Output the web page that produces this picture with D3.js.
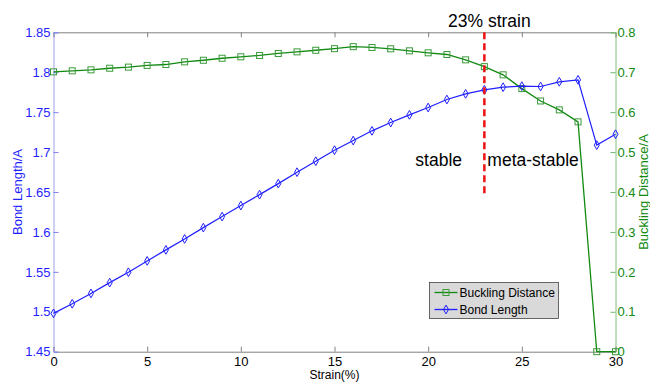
<!DOCTYPE html>
<html><head><meta charset="utf-8">
<script src="https://cdn.jsdelivr.net/npm/d3@7"></script>
<style>body{margin:0;background:#fff}svg{display:block;font-family:Arial,"Liberation Sans",sans-serif}</style>
</head><body><div id="chart"></div>
<script>
const strain = d3.range(0, 31);
const bondLength = [1.498,1.510,1.523,1.5365,1.5495,1.5637,1.5775,1.5912,1.6054,1.6192,1.633,1.6467,1.6605,1.6748,1.6886,1.7024,1.7144,1.7266,1.737,1.7466,1.7558,1.7658,1.7729,1.778,1.7813,1.7826,1.7821,1.788,1.7905,1.7087,1.7224];
const bucklingDistance = [0.701,0.7035,0.706,0.710,0.7128,0.717,0.7193,0.726,0.730,0.735,0.7386,0.742,0.747,0.751,0.755,0.759,0.764,0.762,0.7587,0.7536,0.7486,0.7444,0.731,0.714,0.6935,0.659,0.628,0.6057,0.5757,0,0];
const xTicks = [0,5,10,15,20,25,30];
const leftTicks = [1.45,1.5,1.55,1.6,1.65,1.7,1.75,1.8,1.85];
const rightTicks = [0,0.1,0.2,0.3,0.4,0.5,0.6,0.7,0.8];
const markerStrain = 23;
const markerBottom = 1.645;

const W = 650, H = 382;
const m = {l:53.5, r:34.5, t:32.3, b:30.3};
const svg = d3.select("#chart").append("svg").attr("width", W).attr("height", H);
const x = d3.scaleLinear().domain([0,30]).range([m.l, W - m.r]);
const yL = d3.scaleLinear().domain([1.45,1.85]).range([H - m.b, m.t]);
const yR = d3.scaleLinear().domain([0,0.8]).range([H - m.b, m.t]);

const blue = "#1f1fff", green = "#118a11";
const fmtL = d => d === 1.5 ? "1.5" : d === 1.8 ? "1.8" : d3.format(".2f")(d).replace(/0$/,"");
const fmtR = d => d === 0 ? "0" : d3.format(".1f")(d);

// bottom axis
const gB = svg.append("g").attr("transform", `translate(0,${H - m.b})`)
  .call(d3.axisBottom(x).tickValues(xTicks).tickSize(-5).tickPadding(5).tickFormat(d3.format("d")));
gB.select(".domain").attr("stroke", "#808080");
gB.selectAll(".tick line").attr("stroke", "#808080");
gB.selectAll("text").attr("font-size", 13).attr("fill", "#000");
// top axis
const gT = svg.append("g").attr("transform", `translate(0,${m.t})`)
  .call(d3.axisTop(x).tickValues(xTicks).tickSize(-5).tickFormat(""));
gT.select(".domain").attr("stroke", "#808080");
gT.selectAll(".tick line").attr("stroke", "#808080");

// left axis
const gL = svg.append("g").attr("transform", `translate(${m.l},0)`)
  .call(d3.axisLeft(yL).tickValues(leftTicks).tickSize(-5).tickPadding(3).tickFormat(fmtL));
gL.select(".domain").attr("stroke", "#a0a0f0");
gL.selectAll(".tick line").attr("stroke", "#8080f0");
gL.selectAll("text").attr("font-size", 13).attr("fill", blue);
// right axis
const gR = svg.append("g").attr("transform", `translate(${W - m.r},0)`)
  .call(d3.axisRight(yR).tickValues(rightTicks).tickSize(-5).tickPadding(2).tickFormat(fmtR));
gR.select(".domain").attr("stroke", "#80c080");
gR.selectAll(".tick line").attr("stroke", "#70b870");
gR.selectAll("text").attr("font-size", 13).attr("fill", green);

// axis titles
svg.append("text").attr("transform", `translate(22,${(m.t + H - m.b)/2}) rotate(-90)`)
  .attr("text-anchor","middle").attr("font-size",13).attr("fill",blue).text("Bond Length/A");
svg.append("text").attr("transform", `translate(648,${(m.t + H - m.b)/2}) rotate(-90)`)
  .attr("text-anchor","middle").attr("font-size",13).attr("fill",green).text("Buckling Distance/A");
svg.append("text").attr("x", x(15)).attr("y", 379).attr("text-anchor","middle")
  .attr("font-size",12).attr("fill","#000").text("Strain(%)");

// series
const lineB = d3.line().x((d,i) => x(strain[i])).y(d => yL(d));
const lineG = d3.line().x((d,i) => x(strain[i])).y(d => yR(d));
svg.append("path").datum(bucklingDistance).attr("d", lineG).attr("fill","none").attr("stroke",green).attr("stroke-width",1.3);
svg.append("g").selectAll("rect").data(bucklingDistance).join("rect")
  .attr("x",(d,i)=>x(strain[i])-3).attr("y",d=>yR(d)-3).attr("width",6).attr("height",6)
  .attr("fill","none").attr("stroke","#3a9a3a").attr("stroke-width",1);
svg.append("path").datum(bondLength).attr("d", lineB).attr("fill","none").attr("stroke",blue).attr("stroke-width",1.2);
const diamond = d3.symbol().type(d3.symbolDiamond).size(22);
svg.append("g").selectAll("path").data(bondLength).join("path")
  .attr("transform",(d,i)=>`translate(${x(strain[i])},${yL(d)})`).attr("d",diamond)
  .attr("fill","none").attr("stroke",blue).attr("stroke-width",1);

// marker line
svg.append("line").attr("x1",x(markerStrain)).attr("x2",x(markerStrain))
  .attr("y1",yL(1.85)).attr("y2",yL(markerBottom))
  .attr("stroke","#ee1111").attr("stroke-width",2.5).attr("stroke-dasharray","7,4");
svg.append("text").attr("x",x(markerStrain)+5).attr("y",26.5).attr("text-anchor","middle")
  .attr("font-size",17.5).attr("fill","#000").text("23% strain");
svg.append("text").attr("x",x(markerStrain)-69).attr("y",166)
  .attr("font-size",17.5).attr("fill","#000").text("stable");
svg.append("text").attr("x",x(markerStrain)+3).attr("y",166)
  .attr("font-size",17.5).attr("fill","#000").text("meta-stable");

// legend
const lg = svg.append("g").attr("transform","translate(429.5,282.5)");
lg.append("rect").attr("width",129).attr("height",36).attr("fill","#d9d9d9").attr("stroke","#444").attr("stroke-width",0.8);
const items = [{name:"Buckling Distance", c:green, t:"sq"},{name:"Bond Length", c:blue, t:"di"}];
items.forEach((it,i) => {
  const yy = 10 + i*17;
  lg.append("line").attr("x1",5).attr("x2",28).attr("y1",yy).attr("y2",yy).attr("stroke",it.c).attr("stroke-width",1.3);
  if (it.t === "sq") lg.append("rect").attr("x",13.5).attr("y",yy-3).attr("width",6).attr("height",6).attr("fill","none").attr("stroke","#3a9a3a");
  else lg.append("path").attr("transform",`translate(16.5,${yy})`).attr("d",diamond).attr("fill","none").attr("stroke",it.c);
  lg.append("text").attr("x",30).attr("y",yy+4.5).attr("font-size",12).attr("fill","#000").text(it.name);
});
</script></body></html>
